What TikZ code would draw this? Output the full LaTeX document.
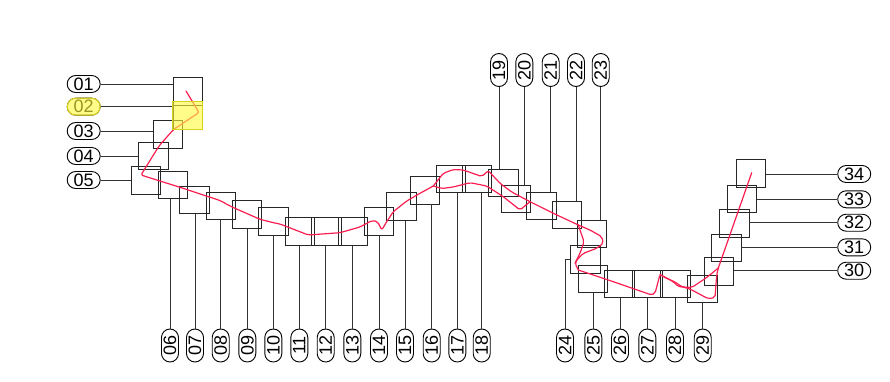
\documentclass[tikz,border=0pt]{standalone}
\usepackage{fontspec}
\setmainfont{Liberation Sans}
\definecolor{routered}{RGB}{250,30,80}
\definecolor{hlfill}{RGB}{255,250,60}
\definecolor{hldraw}{RGB}{215,210,30}
\begin{document}
\begin{tikzpicture}[x=1pt,y=-1pt,
  bx/.style={draw=black!85, line width=0.9pt, minimum width=29.3pt, minimum height=27.5pt, inner sep=0pt},
  lab/.style={draw=black, line width=0.9pt, rounded corners=8.5pt, minimum width=33pt, minimum height=17pt, inner sep=0pt, font=\fontsize{18}{18}\selectfont},
  vlab/.style={lab, rotate=90},
  lead/.style={draw=black!80, line width=0.8pt},
  route/.style={draw=routered, line width=1.2pt, line join=round, line cap=round, rounded corners=2pt},
  hlbox/.style={draw=hldraw, fill=hlfill, fill opacity=0.6, line width=1pt}
]
\useasboundingbox (0,0) rectangle (890,382);
% boxes
\foreach \n/\x/\y in {01/187.7/91.3, 02/187.7/115.5, 03/168/134.5, 04/153.3/156, 05/146.2/180.3,
  06/172.8/184.8, 07/194.3/199.7, 08/220.7/205.7, 09/247/214.5, 10/273.3/221.3,
  11/299.8/231.3, 12/326.5/231.3, 13/352.8/231.3, 14/378.8/221.3, 15/401.5/206.5,
  16/425.2/190.2, 17/450.8/179, 18/477/179, 19/503.3/182.7, 20/515.7/198.8,
  21/541.3/206, 22/566.8/214.7, 23/592/234, 24/585.3/259.5, 25/592.8/278.8,
  26/619.3/283.7, 27/647.3/283.7, 28/675.3/283.7, 29/702.5/289, 30/718.8/271.2,
  31/726.3/248, 32/734.3/223.3, 33/742.2/198.7, 34/751/173.7}
  \node[bx] (b\n) at (\x,\y) {};
% left labels
\foreach \n/\y in {01/84, 02/106.7, 03/131, 04/156, 05/180} {
  \node[lab] (l\n) at (83.7,\y) {\n};
  \draw[lead] (l\n.east) -- (l\n.east -| b\n.west);
}
% right labels
\foreach \n/\y in {34/174, 33/199.3, 32/222.7, 31/247.3, 30/270.7} {
  \node[lab] (l\n) at (854.2,\y) {\n};
  \draw[lead] (l\n.west -| b\n.east) -- (l\n.west);
}
% bottom labels
\foreach \n/\x in {06/170, 07/195, 08/220.7, 09/247.3, 10/273.3, 11/299.3, 12/325.7,
  13/352.3, 14/379, 15/405, 16/431.7, 17/457.3, 18/481.7, 25/593.3, 26/620,
  27/647.3, 28/675, 29/702.7} {
  \node[vlab] (l\n) at (\x,345.5) {\n};
  \draw[lead] (l\n.east) -- (l\n.east |- b\n.south);
}
\node[vlab] (l24) at (565,345.5) {24};
\draw[lead] (b24.west) -| (l24.east);
% top labels
\foreach \n/\x in {19/499, 20/524.3, 21/550.7, 22/576, 23/600.7} {
  \node[vlab] (l\n) at (\x,70) {\n};
  \draw[lead] (l\n.west) -- (l\n.west |- b\n.north);
}
% route
\draw[route] (186,91) -- (199,112.5) -- (173.5,129.5) -- (159,146) -- (141,175) -- (156.7,180)
  -- (180,187.3) -- (220,200.5) -- (230,206) -- (235,208.3) -- (260,219.3) -- (273.3,222.7)
  -- (280,224) -- (308.3,235) -- (340,232.7) -- (360,227) -- (372,220.5) -- (377.5,221.5)
  -- (381.7,230) -- (386.7,221.7) -- (393.3,211.7) -- (406.7,201) -- (420,193.3) -- (433.3,186);
\draw[route] (433.3,186) -- (443.3,173.3) -- (453.3,169.5) -- (463.3,170) -- (481.7,176.5)
  -- (488.3,170.7) -- (500,183.3) -- (511.7,192) -- (530,201.7);
\draw[route] (433.3,186) -- (441.7,188.5) -- (453.3,187) -- (470,182.7) -- (486.7,186)
  -- (503.3,196.7) -- (520,210) -- (530,201.7);
\draw[route] (530,201.7) -- (553.3,213.3) -- (578.3,225);
\draw[route] (578.3,225) -- (581.7,235) -- (584,241.7) -- (580,253.3) -- (575,263.3) -- (578.3,270);
\draw[route] (578.3,225) -- (590,230) -- (601.7,236.7) -- (603.3,243.3) -- (596.7,248.3)
  -- (583.3,253.3) -- (576.7,260) -- (575,263.3);
\draw[route] (578.3,270) -- (608.3,280) -- (651.7,295) -- (655,293.3) -- (660,274.5) -- (665,277.5);
\draw[route] (665,277.5) -- (675,282) -- (681.7,286.7) -- (690,289) -- (708.3,298.8)
  -- (715,297.5) -- (716.7,275) -- (718.3,268);
\draw[route] (660,274.5) -- (673.3,281.7) -- (678.3,286.7) -- (691.7,287.5) -- (706.7,277.5) -- (718.3,268);
\draw[route] (718.3,268) -- (751.7,172.7);
% highlight
\draw[hlbox] (b02.south west) rectangle (b02.north east);
\node[lab, hlbox, rounded corners=8.5pt] (h02) at (l02) {};
\end{tikzpicture}
\end{document}
